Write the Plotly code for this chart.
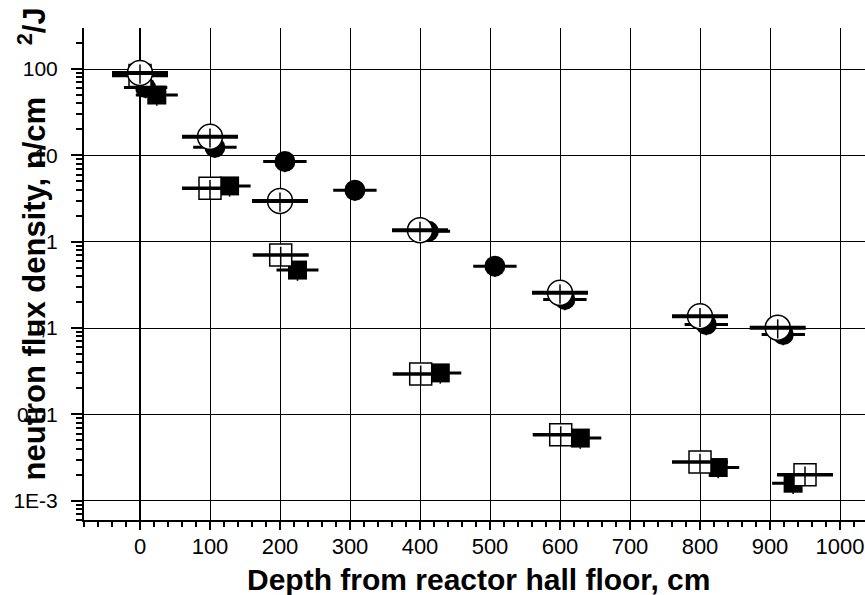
import plotly.graph_objects as go

# ---- data ----
# open circles
oc_depth = [0, 100, 200, 400, 600, 800, 911]
oc_flux = [90, 16.4, 2.97, 1.36, 0.256, 0.137, 0.101]
oc_xerr = [40, 40, 40, 40, 40, 40, 40]

# filled circles
fc_depth = [8, 107, 207, 307, 412, 507, 607, 809, 919]
fc_flux = [61, 12.4, 8.5, 3.95, 1.32, 0.522, 0.215, 0.110, 0.0843]
fc_xerr = [31, 31, 31, 31, 31, 31, 31, 31, 31]

# open squares
os_depth = [0, 100, 201, 401, 601, 800, 950]
os_flux = [84, 4.16, 0.70, 0.0295, 0.00583, 0.00281, 0.0020]
os_xerr = [40, 40, 40, 40, 40, 40, 40]

# filled squares
fs_depth = [24, 128, 225, 429, 629, 826, 933]
fs_flux = [50, 4.43, 0.47, 0.0303, 0.00533, 0.00243, 0.0016]
fs_xerr = [30, 30, 30, 30, 30, 30, 30]

rel_err = 0.25  # relative vertical uncertainty

x_ticks = [0, 100, 200, 300, 400, 500, 600, 700, 800, 900, 1000]
y_ticks = [0.001, 0.01, 0.1, 1, 10, 100]
y_ticktext = ["1E-3", "0,01", "0,1", "1", "10", "100"]

x_title = "Depth from reactor hall floor, cm"
y_title = "neutron flux density, n/cm" + "\u00a0" * 6 + "<sup>2</sup>/J"


def yerr(vals):
    return [v * rel_err for v in vals]


def ebar_x(vals, th):
    return dict(type="data", array=vals, color="black", thickness=th, width=0)


def ebar_y(vals, th):
    return dict(type="data", array=yerr(vals), color="black", thickness=th, width=0)


fig = go.Figure()

# filled circles
fig.add_trace(go.Scatter(
    x=fc_depth, y=fc_flux, mode="markers",
    marker=dict(symbol="circle", size=21, color="black", line=dict(width=0)),
    error_x=ebar_x(fc_xerr, 3), error_y=ebar_y(fc_flux, 1.5),
    showlegend=False))

# filled squares
fig.add_trace(go.Scatter(
    x=fs_depth, y=fs_flux, mode="markers",
    marker=dict(symbol="square", size=19, color="black", line=dict(width=0)),
    error_x=ebar_x(fs_xerr, 3), error_y=ebar_y(fs_flux, 1.5),
    showlegend=False))

# open squares (white filled) + their bars on top
fig.add_trace(go.Scatter(
    x=os_depth, y=os_flux, mode="markers",
    marker=dict(symbol="square", size=22, color="white", line=dict(width=1.5, color="black")),
    showlegend=False))
fig.add_trace(go.Scatter(
    x=os_depth, y=os_flux, mode="markers",
    marker=dict(size=1, color="rgba(0,0,0,0)"),
    error_x=ebar_x(os_xerr, 3.5), error_y=ebar_y(os_flux, 1.5),
    showlegend=False))

# open circles (white filled) + their bars on top
fig.add_trace(go.Scatter(
    x=oc_depth, y=oc_flux, mode="markers",
    marker=dict(symbol="circle", size=25, color="white", line=dict(width=1.5, color="black")),
    showlegend=False))
fig.add_trace(go.Scatter(
    x=oc_depth, y=oc_flux, mode="markers",
    marker=dict(size=1, color="rgba(0,0,0,0)"),
    error_x=ebar_x(oc_xerr, 4), error_y=ebar_y(oc_flux, 1.5),
    showlegend=False))

fig.update_layout(
    width=865, height=595,
    margin=dict(l=84, r=0, t=28, b=75),
    paper_bgcolor="white", plot_bgcolor="white",
    font=dict(family="Liberation Sans, Arial", color="black"),
    xaxis=dict(
        range=[-80, 1035.7], tickvals=x_ticks,
        showgrid=True, gridcolor="black", gridwidth=1,
        zeroline=True, zerolinecolor="black", zerolinewidth=2,
        showline=True, linecolor="black", linewidth=2,
        ticks="outside", ticklen=8, tickwidth=1.5, tickcolor="black",
        minor=dict(dtick=20, ticks="outside", ticklen=5, tickwidth=1.5,
                   tickcolor="black", showgrid=False),
        tickfont=dict(family="Liberation Sans, Arial", size=22),
        ticklabelstandoff=-2,
        ticklabeloverflow="allow",
    ),
    yaxis=dict(
        type="log", range=[-3.222, 2.475],
        tickvals=y_ticks, ticktext=y_ticktext,
        showgrid=True, gridcolor="black", gridwidth=1,
        showline=True, linecolor="black", linewidth=2,
        ticks="outside", ticklen=11, tickwidth=1.5, tickcolor="black",
        minor=dict(dtick="D1", ticks="outside", ticklen=6, tickwidth=1.5,
                   tickcolor="black", showgrid=False),
        tickfont=dict(family="Liberation Sans, Arial", size=21),
        ticklabelstandoff=9,
    ),
    annotations=[
        dict(text="<b>" + x_title + "</b>", xref="paper", yref="paper",
             x=0.5045, y=-0.121, xanchor="center", yanchor="middle",
             showarrow=False, font=dict(size=30, family="Liberation Sans, Arial")),
        dict(text="<b>" + y_title + "</b>", xref="paper", yref="paper",
             x=-0.066, y=0.561, xanchor="center", yanchor="middle", textangle=-90,
             showarrow=False, font=dict(size=31, family="Liberation Sans, Arial")),
    ],
)

fig.write_html("out.html")
